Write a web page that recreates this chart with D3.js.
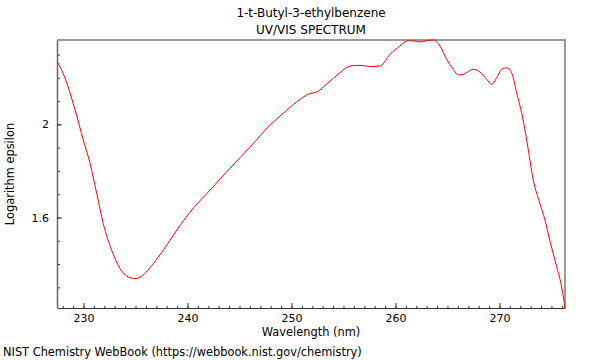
<!DOCTYPE html>
<html><head><meta charset="utf-8">
<script src="https://cdn.jsdelivr.net/npm/d3@7"></script>
<style>body{margin:0;background:#fff}svg{display:block}text{font-family:"DejaVu Sans",sans-serif}</style>
</head><body><svg id="c" width="600" height="360"></svg>
<script>
const wavelength = [227.45,228.22,229.18,229.98,230.63,231.27,231.90,232.71,233.51,234.31,234.95,235.60,236.39,237.67,238.96,240.24,242.16,244.09,246.01,247.93,249.21,250.50,251.78,252.42,253.38,254.66,255.63,256.59,257.55,258.51,259.47,260.43,261.23,261.88,262.36,263.00,263.63,264.28,264.92,265.56,266.04,266.52,267.48,268.13,268.77,269.25,269.73,270.21,270.69,271.17,271.65,272.13,272.62,273.25,273.89,274.38,274.86,275.50,275.98,276.30];
const logEpsilon = [2.2723,2.1991,2.0637,1.9325,1.8323,1.7032,1.5742,1.4594,1.3806,1.3445,1.3376,1.3475,1.3841,1.4594,1.5454,1.6228,1.7174,1.8120,1.9024,1.9970,2.0473,2.0972,2.1325,2.1389,2.1733,2.2219,2.2508,2.2538,2.2486,2.2508,2.3011,2.3368,2.3596,2.3583,2.3540,2.3596,2.3626,2.3368,2.2796,2.2366,2.2120,2.2151,2.2366,2.2249,2.1935,2.1720,2.2004,2.2366,2.2434,2.2219,2.1359,2.0499,1.9325,1.7604,1.6602,1.5884,1.4981,1.3884,1.3015,1.2112];
const xMajorTicks = [230,240,250,260,270];
const yMajorTicks = [1.6,2.0];
const titleLines = ["1-t-Butyl-3-ethylbenzene","UV/VIS SPECTRUM"];

const svg = d3.select("#c");
const L=57, R=565, T=40, B=308;
const x = d3.scaleLinear().domain(d3.extent(wavelength)).range([L,R]);
const y = d3.scaleLinear().domain(d3.extent(logEpsilon)).range([B,T]);
const pts = wavelength.map((w,i)=>[w,logEpsilon[i]]);

// frame top/right
svg.append("path").attr("d",`M${L},${T}H${R}V${B}`).attr("fill","none").attr("stroke","#9a9a9a").attr("stroke-width",2);

// line
svg.append("path").datum(pts).attr("fill","none").attr("stroke","#ff0000").attr("stroke-width",1)
  .attr("d",d3.line().x(d=>x(d[0])).y(d=>y(d[1])).curve(d3.curveMonotoneX));

// x axis
const xMinor = d3.range(228,277,1).filter(v=>v>=x.domain()[0]&&v<=x.domain()[1]);
const gx = svg.append("g").attr("transform",`translate(0,${B})`);
gx.call(d3.axisBottom(x).tickValues(xMinor).tickSize(-2).tickFormat(""));
gx.call(g=>g.select(".domain").remove());
gx.selectAll(".tick line").attr("stroke","#333");
const gx2 = svg.append("g").attr("transform",`translate(0,${B})`);
gx2.call(d3.axisBottom(x).tickValues(xMajorTicks).tickSizeInner(-5).tickSizeOuter(0).tickPadding(6).tickFormat(d3.format("d")));
gx2.select(".domain").attr("stroke","#333");
gx2.selectAll(".tick line").attr("stroke","#333");
gx2.selectAll("text").attr("font-size",11).attr("fill","#000").attr("font-family","DejaVu Sans");

// y axis
const yMinor = d3.range(13,24).map(v=>v/10).filter(v=>v>=y.domain()[0]&&v<=y.domain()[1]);
const gy = svg.append("g").attr("transform",`translate(${L},0)`);
gy.call(d3.axisLeft(y).tickValues(yMinor).tickSize(-3).tickFormat(""));
gy.call(g=>g.select(".domain").remove());
gy.selectAll(".tick line").attr("stroke","#333");
const gy2 = svg.append("g").attr("transform",`translate(${L},0)`);
gy2.call(d3.axisLeft(y).tickValues(yMajorTicks).tickSizeInner(-5).tickSizeOuter(0).tickPadding(8).tickFormat(d=>d3.format("")(d)));
gy2.select(".domain").attr("stroke","#666").attr("stroke-width",1.5);
gy2.selectAll(".tick line").attr("stroke","#333");
gy2.selectAll("text").attr("font-size",11).attr("fill","#000").attr("font-family","DejaVu Sans");

// titles
titleLines.forEach((t,i)=>svg.append("text").attr("x",(L+R)/2).attr("y",17+i*17).attr("text-anchor","middle").attr("font-size",12).text(t));
svg.append("text").attr("x",(L+R)/2).attr("y",336).attr("text-anchor","middle").attr("font-size",11.4).text("Wavelength (nm)");
svg.append("text").attr("transform",`translate(14,${(T+B)/2}) rotate(-90)`).attr("text-anchor","middle").attr("font-size",11.4).text("Logarithm epsilon");
svg.append("text").attr("x",3).attr("y",356).attr("font-size",11.4).text("NIST Chemistry WebBook (https://webbook.nist.gov/chemistry)");
</script></body></html>
